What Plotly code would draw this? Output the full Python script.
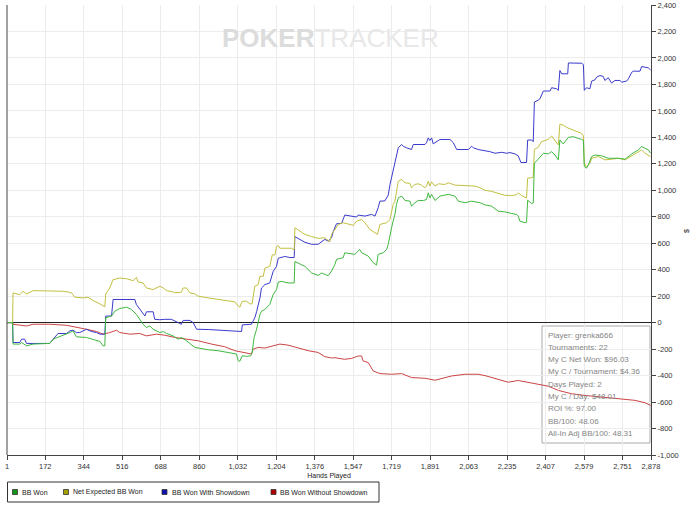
import plotly.graph_objects as go

# ---------------- data ----------------
series_names = ["BB Won", "Net Expected BB Won", "BB Won With Showdown", "BB Won Without Showdown"]
line_colors = ["#3fb83f", "#c2c040", "#3a3acc", "#cc4444"]
legend_colors = ["#17951a", "#a3a000", "#1010b0", "#b00000"]

won_hands = [1,26,28,58,66,88,118,192,207,229,267,282,296,311,356,386,416,430,438,442,468,483,505,535,557,579,594,609,624,639,654,669,684,699,714,743,766,780,803,840,855,900,944,1004,1026,1034,1041,1052,1071,1090,1096,1105,1116,1131,1138,1153,1175,1190,1205,1213,1227,1257,1284,1287,1302,1332,1362,1391,1406,1421,1436,1451,1466,1473,1503,1510,1540,1555,1577,1585,1615,1637,1652,1659,1682,1697,1704,1712,1719,1726,1734,1741,1749,1764,1779,1801,1808,1823,1838,1861,1875,1883,1890,1898,1913,1935,1972,2002,2017,2047,2077,2092,2114,2136,2166,2196,2225,2255,2278,2285,2292,2315,2322,2327,2345,2352,2357,2374,2397,2419,2434,2449,2464,2471,2486,2509,2531,2553,2568,2576,2580,2590,2598,2613,2628,2658,2687,2732,2762,2792,2821,2836,2851,2866,2876]
won_vals = [0,0,-162,-162,-150,-175,-162,-157,-125,-112,-87,-75,-62,-107,-112,-125,-142,-175,-175,37,50,87,107,117,100,62,25,-12,-37,-25,-50,-62,-75,-67,-82,-100,-125,-112,-137,-187,-192,-205,-212,-232,-237,-287,-292,-250,-255,-250,-225,-112,-50,62,87,100,137,212,250,307,312,300,300,462,450,425,375,357,375,362,355,390,440,478,491,528,520,516,553,528,503,453,435,516,528,553,591,667,717,767,818,893,943,956,923,918,880,905,923,923,930,981,943,969,923,956,969,956,918,906,918,913,906,890,880,842,837,825,817,805,767,755,760,925,900,905,1205,1235,1280,1275,1292,1267,1230,1380,1350,1400,1405,1392,1385,1375,1180,1167,1192,1255,1267,1260,1242,1242,1235,1275,1305,1330,1317,1305,1280]

exp_hands = [1,26,28,58,73,88,118,162,207,252,274,289,304,341,363,386,416,438,442,460,475,505,535,565,579,587,609,624,654,669,684,699,714,743,751,780,788,803,818,840,855,900,944,989,1019,1034,1041,1052,1071,1086,1096,1101,1108,1123,1131,1146,1153,1175,1186,1198,1205,1213,1220,1272,1284,1287,1302,1332,1362,1391,1421,1443,1451,1466,1481,1503,1525,1548,1563,1585,1600,1622,1645,1656,1667,1697,1712,1719,1726,1734,1741,1749,1764,1779,1801,1808,1823,1838,1853,1868,1875,1883,1890,1898,1913,1928,1957,1972,2002,2062,2092,2114,2136,2166,2196,2225,2255,2278,2285,2300,2322,2327,2345,2352,2357,2374,2389,2419,2434,2449,2464,2471,2486,2501,2523,2546,2568,2576,2580,2590,2605,2613,2628,2643,2658,2672,2702,2732,2762,2792,2821,2836,2851,2866,2876]
exp_vals = [0,0,225,212,237,217,242,242,237,237,232,225,192,187,192,167,142,120,217,262,325,337,332,317,342,307,300,262,250,262,275,262,242,232,225,230,262,262,225,217,200,187,175,162,157,125,117,162,162,142,142,200,275,287,350,350,412,425,512,512,575,582,562,562,550,717,700,667,650,637,641,611,667,704,742,755,747,735,767,780,755,704,679,667,742,755,780,830,893,918,994,1069,1082,1057,1052,1019,1044,1049,1039,1019,1032,1069,1032,1064,1032,1049,1044,1057,1039,1032,1032,1019,1000,992,975,962,960,967,980,960,942,1092,1095,1100,1310,1325,1367,1385,1410,1380,1342,1500,1492,1475,1460,1442,1430,1410,1205,1175,1205,1242,1250,1255,1242,1230,1235,1242,1230,1260,1285,1305,1280,1267,1255]

sd_hands = [1,26,28,58,66,80,88,192,207,229,267,282,296,311,326,356,378,401,416,438,442,468,475,505,520,572,579,594,617,624,654,661,684,706,736,766,780,788,818,833,840,848,900,974,1004,1049,1052,1093,1108,1116,1131,1138,1153,1175,1190,1205,1213,1242,1265,1284,1287,1302,1332,1362,1391,1421,1436,1451,1458,1473,1496,1510,1540,1563,1570,1600,1630,1645,1659,1667,1689,1704,1712,1719,1726,1734,1741,1749,1764,1771,1786,1808,1816,1868,1875,1883,1890,1898,1905,1920,1935,1980,1995,2010,2062,2077,2084,2106,2136,2158,2181,2211,2233,2248,2270,2285,2297,2322,2327,2345,2352,2357,2374,2382,2397,2427,2434,2456,2464,2471,2479,2506,2509,2568,2576,2580,2590,2605,2613,2628,2635,2650,2665,2672,2687,2695,2702,2717,2739,2747,2769,2777,2792,2799,2829,2836,2851,2866,2876]
sd_vals = [0,0,-150,-150,-125,-125,-157,-157,-125,-82,-82,-62,-57,-75,-75,-50,-67,-75,-87,-87,50,50,175,175,170,175,137,100,50,82,82,25,22,25,25,0,-12,17,17,0,-25,-50,-52,-57,-62,-67,-17,-12,37,82,187,262,287,300,387,425,487,500,492,492,650,637,607,592,592,629,616,641,687,747,750,813,805,798,813,805,818,805,868,918,920,964,1044,1094,1145,1220,1270,1321,1346,1333,1321,1308,1346,1346,1359,1396,1376,1396,1351,1371,1384,1384,1359,1308,1308,1333,1321,1308,1300,1292,1280,1287,1280,1285,1275,1260,1210,1210,1380,1380,1367,1667,1680,1692,1750,1750,1775,1767,1755,1905,1880,1880,1962,1960,1950,1755,1775,1767,1825,1835,1855,1867,1860,1830,1850,1830,1810,1830,1830,1817,1825,1842,1892,1900,1900,1935,1930,1925,1910]

nsd_hands = [1,26,28,58,88,118,192,267,311,356,401,430,460,490,505,550,594,624,669,706,751,795,855,915,974,1019,1064,1093,1101,1123,1153,1198,1220,1257,1302,1347,1391,1421,1451,1466,1510,1540,1570,1585,1592,1615,1637,1667,1719,1764,1808,1868,1913,1928,1957,1987,2047,2106,2136,2166,2181,2211,2240,2285,2330,2374,2419,2464,2523,2583,2658,2732,2806,2851,2876]
nsd_vals = [0,0,-12,-17,-25,-12,-12,-20,-32,-50,-67,-87,-75,-57,-75,-87,-82,-100,-87,-95,-112,-125,-137,-162,-182,-212,-225,-237,-200,-187,-192,-175,-162,-170,-192,-212,-225,-257,-267,-265,-277,-270,-252,-252,-289,-302,-365,-385,-390,-385,-415,-420,-435,-428,-420,-403,-390,-390,-400,-415,-425,-437,-450,-437,-450,-462,-480,-512,-537,-550,-562,-575,-587,-605,-625]

x_tick_vals = [1,172,344,516,688,860,1032,1204,1376,1547,1719,1891,2063,2235,2407,2579,2751,2878]
x_tick_text = ["1","172","344","516","688","860","1,032","1,204","1,376","1,547","1,719","1,891","2,063","2,235","2,407","2,579","2,751","2,878"]
y_tick_vals = [-1000,-800,-600,-400,-200,0,200,400,600,800,1000,1200,1400,1600,1800,2000,2200,2400]
y_tick_text = ["-1,000","-800","-600","-400","-200","0","200","400","600","800","1,000","1,200","1,400","1,600","1,800","2,000","2,200","2,400"]

info_lines = ["Player: grenka666", "Tournaments: 22", "My C Net Won: $96.03",
              "My C / Tournament: $4.36", "Days Played: 2", "My C / Day: $48.01",
              "ROI %: 97.00", "BB/100: 48.06", "All-In Adj BB/100: 48.31"]

# ---------------- layout helpers ----------------
W, H = 700, 509
PL, PR, PT, PB = 7, 651, 5, 455
FONT = "Liberation Sans, Arial, sans-serif"


def px(x):
    return (x - PL) / (PR - PL)


def py(y):
    return (PB - y) / (PB - PT)


fig = go.Figure()
all_series = [(won_hands, won_vals), (exp_hands, exp_vals), (sd_hands, sd_vals), (nsd_hands, nsd_vals)]
# draw order: red, blue, olive, green? reference shows green on top of olive at end
order = [3, 2, 1, 0]
for i in order:
    hx, hv = all_series[i]
    fig.add_trace(go.Scatter(x=hx, y=hv, mode="lines", name=series_names[i],
                             line=dict(color=line_colors[i], width=1),
                             showlegend=False, hoverinfo="skip"))

shapes = []
annotations = []

# left border line
shapes.append(dict(type="line", xref="paper", yref="paper", x0=0, x1=0, y0=0, y1=1,
                   line=dict(color="#444444", width=1)))

# info box (between gridlines and traces)
shapes.append(dict(type="rect", xref="paper", yref="paper", layer="between",
                   x0=px(542), x1=px(650), y0=py(443), y1=py(326),
                   fillcolor="white", line=dict(color="#aaaaaa", width=1)))
for k, t in enumerate(info_lines):
    annotations.append(dict(xref="paper", yref="paper", x=px(545.5), y=py(335 + k * 12.3),
                            text=t, showarrow=False, xanchor="left", yanchor="middle",
                            font=dict(family=FONT, size=8, color="#858585")))

# custom legend
shapes.append(dict(type="rect", xref="paper", yref="paper",
                   x0=px(7.5), x1=px(379), y0=py(502), y1=py(482),
                   fillcolor="white", line=dict(color="#333333", width=1)))
sq_x = [12.5, 63.5, 162, 271]
tx_x = [19.5, 71, 170, 278]
for i in range(4):
    shapes.append(dict(type="rect", xref="paper", yref="paper",
                       x0=px(sq_x[i]), x1=px(sq_x[i] + 5), y0=py(494.5), y1=py(489.5),
                       fillcolor=legend_colors[i], line=dict(color="#333333", width=0.8)))
    annotations.append(dict(xref="paper", yref="paper", x=px(tx_x[i]), y=py(492),
                            text=series_names[i], showarrow=False, xanchor="left",
                            yanchor="middle", font=dict(family=FONT, size=7, color="#222222")))

# watermark
annotations.append(dict(xref="paper", yref="paper", x=px(331), y=py(38),
                        text="<b><span style='color:#dcdcdc'>POKER</span></b>"
                             "<span style='color:#e8e8e8'>TRACKER</span>",
                        showarrow=False, xanchor="center", yanchor="middle",
                        font=dict(family=FONT, size=26)))

# y axis title "$"
annotations.append(dict(xref="paper", yref="paper", x=px(686), y=py(231), text="$",
                        showarrow=False, textangle=-90, xanchor="center", yanchor="middle",
                        font=dict(family=FONT, size=7, color="#222222")))

fig.update_layout(
    width=W, height=H,
    margin=dict(l=PL, r=W - PR, t=PT, b=H - PB, pad=0),
    paper_bgcolor="white", plot_bgcolor="white",
    showlegend=False,
    shapes=shapes, annotations=annotations,
    xaxis=dict(range=[1, 2878], tickmode="array", tickvals=x_tick_vals, ticktext=x_tick_text,
               showgrid=True, gridcolor="#ececec", gridwidth=1, zeroline=False,
               showline=True, linecolor="#444444", linewidth=1,
               ticks="outside", ticklen=4, tickcolor="#444444",
               tickfont=dict(family=FONT, size=7.5, color="#333333"),
               title=dict(text="Hands Played", font=dict(family=FONT, size=7, color="#222222"),
                          standoff=3),
               automargin=False, fixedrange=True),
    yaxis=dict(range=[-1000, 2400], side="right", tickmode="array", tickvals=y_tick_vals,
               ticktext=y_tick_text, showgrid=True, gridcolor="#ececec", gridwidth=1,
               zeroline=True, zerolinecolor="#222222", zerolinewidth=1,
               showline=True, linecolor="#444444", linewidth=1,
               ticks="outside", ticklen=4, tickcolor="#444444",
               tickfont=dict(family=FONT, size=7.5, color="#333333"),
               automargin=False, fixedrange=True),
)

fig.write_html("out.html")
